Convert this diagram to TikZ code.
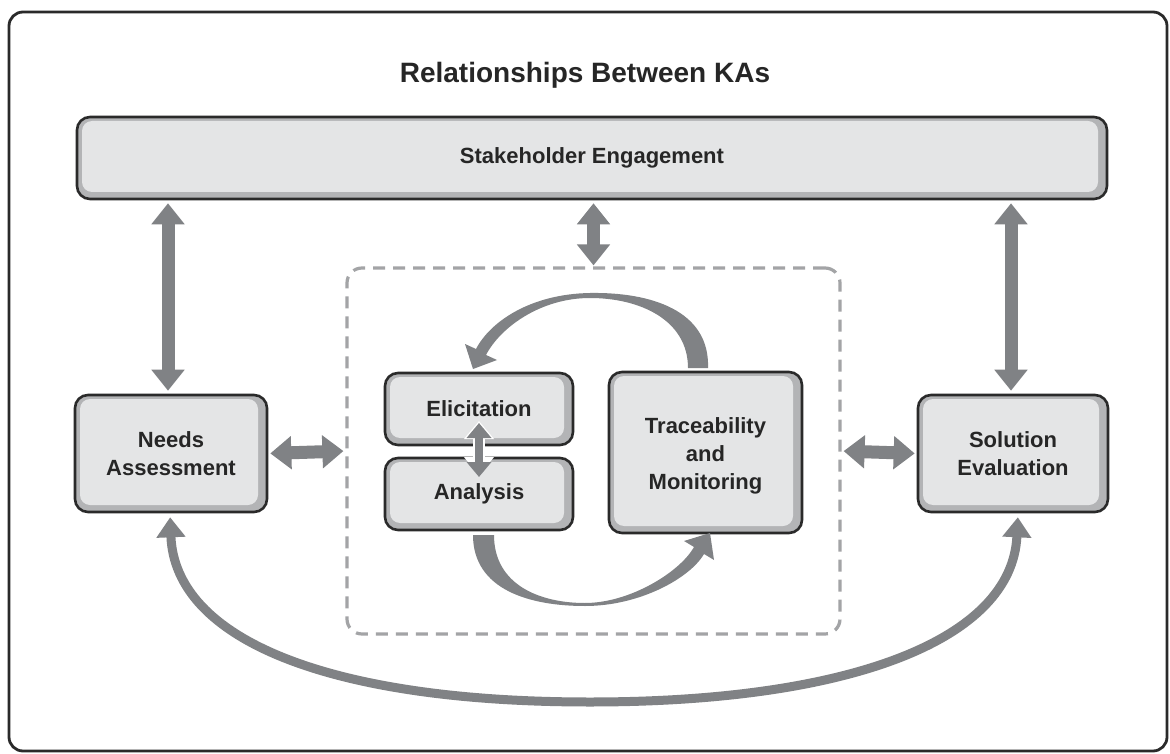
\documentclass[tikz,border=0pt]{standalone}
\usepackage{fontspec}
\setmainfont{Liberation Sans}
\usetikzlibrary{arrows.meta}
\definecolor{boxfill}{HTML}{E4E5E6}
\definecolor{boxband}{HTML}{B3B4B6}
\definecolor{boxline}{HTML}{2A2A2A}
\definecolor{arrowgray}{HTML}{808285}
\definecolor{dashgray}{HTML}{A3A4A6}
\definecolor{txt}{HTML}{262626}
\begin{document}
\begin{tikzpicture}[x=1pt,y=-1pt,
  boxtext/.style={align=center, text=txt, font=\fontsize{22}{28}\selectfont\bfseries, inner sep=0pt},
  kabox/.style={boxtext, draw=boxline, line width=2.6pt, fill=boxband, rounded corners=13pt,
    path picture={\fill[boxfill, rounded corners=10pt]
      ([xshift=5pt,yshift=-4pt]path picture bounding box.north west) rectangle
      ([xshift=-9pt,yshift=7pt]path picture bounding box.south east);}},
  bigarrow/.style={draw=arrowgray, line width=13pt,
    {Triangle[width=32pt,length=21pt]}-{Triangle[width=32pt,length=21pt]}},
  smallarrow/.style={draw=arrowgray, line width=8pt,
    {Triangle[width=24pt,length=15pt]}-{Triangle[width=24pt,length=15pt]}},
  arcarrow/.style={draw=arrowgray, line width=9pt,
    {Triangle[width=28pt,length=20pt]}-{Triangle[width=28pt,length=20pt]}},
  crescent/.style={fill=arrowgray, draw=none},
  corebox/.style={draw=dashgray, line width=3.2pt, dash pattern=on 12pt off 8pt,
    rounded corners=15pt, minimum width=493pt, minimum height=366pt, inner sep=0pt}
]
\useasboundingbox (0,0) rectangle (1170,754);
\fill[white] (0,0) rectangle (1170,754);
\draw[line width=2.8pt, draw=boxline, rounded corners=14pt] (9,12) rectangle (1167,751);

\node[font=\fontsize{28}{32}\selectfont\bfseries, text=txt] (title) at (585,75) {Relationships Between KAs};

\node[kabox, minimum width=1030pt, minimum height=82pt] (stake) at (592,158) {Stakeholder Engagement};
\node[kabox, minimum width=192pt, minimum height=117pt] (needs) at (171,453.5) {Needs\\Assessment};
\node[kabox, minimum width=190pt, minimum height=117pt] (sol) at (1013,453.5) {Solution\\Evaluation};
\node[corebox] (core) at (593.5,451) {};
\node[kabox, minimum width=188pt, minimum height=72pt] (elic) at (479,409) {Elicitation};
\node[kabox, minimum width=188pt, minimum height=72pt] (ana) at (479,494) {Analysis};
\node[kabox, minimum width=193pt, minimum height=161pt] (trace) at (705.5,452.5) {};
\node[boxtext] (tracetext) at ([yshift=-3pt]trace.center) {Traceability\\and\\Monitoring};

% vertical arrows
\draw[bigarrow, shorten <=3pt, shorten >=3pt] ([xshift=-3pt]stake.south -| needs.north) -- ([xshift=-3pt]needs.north);
\draw[bigarrow, shorten <=3pt, shorten >=1pt] (stake.south -| core.north) -- (core.north);
\draw[bigarrow, shorten <=3pt, shorten >=3pt] ([xshift=-2pt]stake.south -| sol.north) -- ([xshift=-2pt]sol.north);
% horizontal arrows
\draw[bigarrow, shorten <=2pt, shorten >=2pt] (needs.east) -- (core.west);
\draw[bigarrow, shorten <=2pt, shorten >=2pt] (core.east) -- (sol.east -| sol.west);
% elicitation <-> analysis
\draw[draw=white, line width=12pt, {Triangle[width=29pt,length=18pt]}-{Triangle[width=29pt,length=18pt]}]
  ([yshift=-12pt]elic.center) -- ([yshift=19pt]ana.center);
\draw[smallarrow] ([yshift=-14pt]elic.center) -- ([yshift=17pt]ana.center);

% top cycle arc (Traceability -> Elicitation)
\fill[crescent] (708,368) .. controls (710,310) and (650,292) .. (590,293)
  .. controls (530,294) and (490,322) .. (476,349)
  -- (465,344) -- (473,369) -- (497,360) -- (486,355)
  .. controls (500,328) and (540,298) .. (590,298)
  .. controls (640,298) and (688,320) .. (688,368) -- cycle;
% bottom cycle arc (Analysis -> Traceability)
\fill[crescent] (473,535) .. controls (473,590) and (530,606) .. (585,606)
  .. controls (640,606) and (690,578) .. (704,554)
  -- (714,560) -- (710,533) -- (684,541) -- (694,547)
  .. controls (680,572) and (630,603) .. (585,603)
  .. controls (540,603) and (494,585) .. (494,535) -- cycle;

% big arc between Needs Assessment and Solution Evaluation
\draw[arcarrow, shorten <=4pt, shorten >=4pt] ([xshift=-1pt]needs.south)
  .. controls (175,640) and (330,702) .. (590,702)
  .. controls (850,702) and (1012,640) .. ([xshift=5pt]sol.south);
\end{tikzpicture}
\end{document}
